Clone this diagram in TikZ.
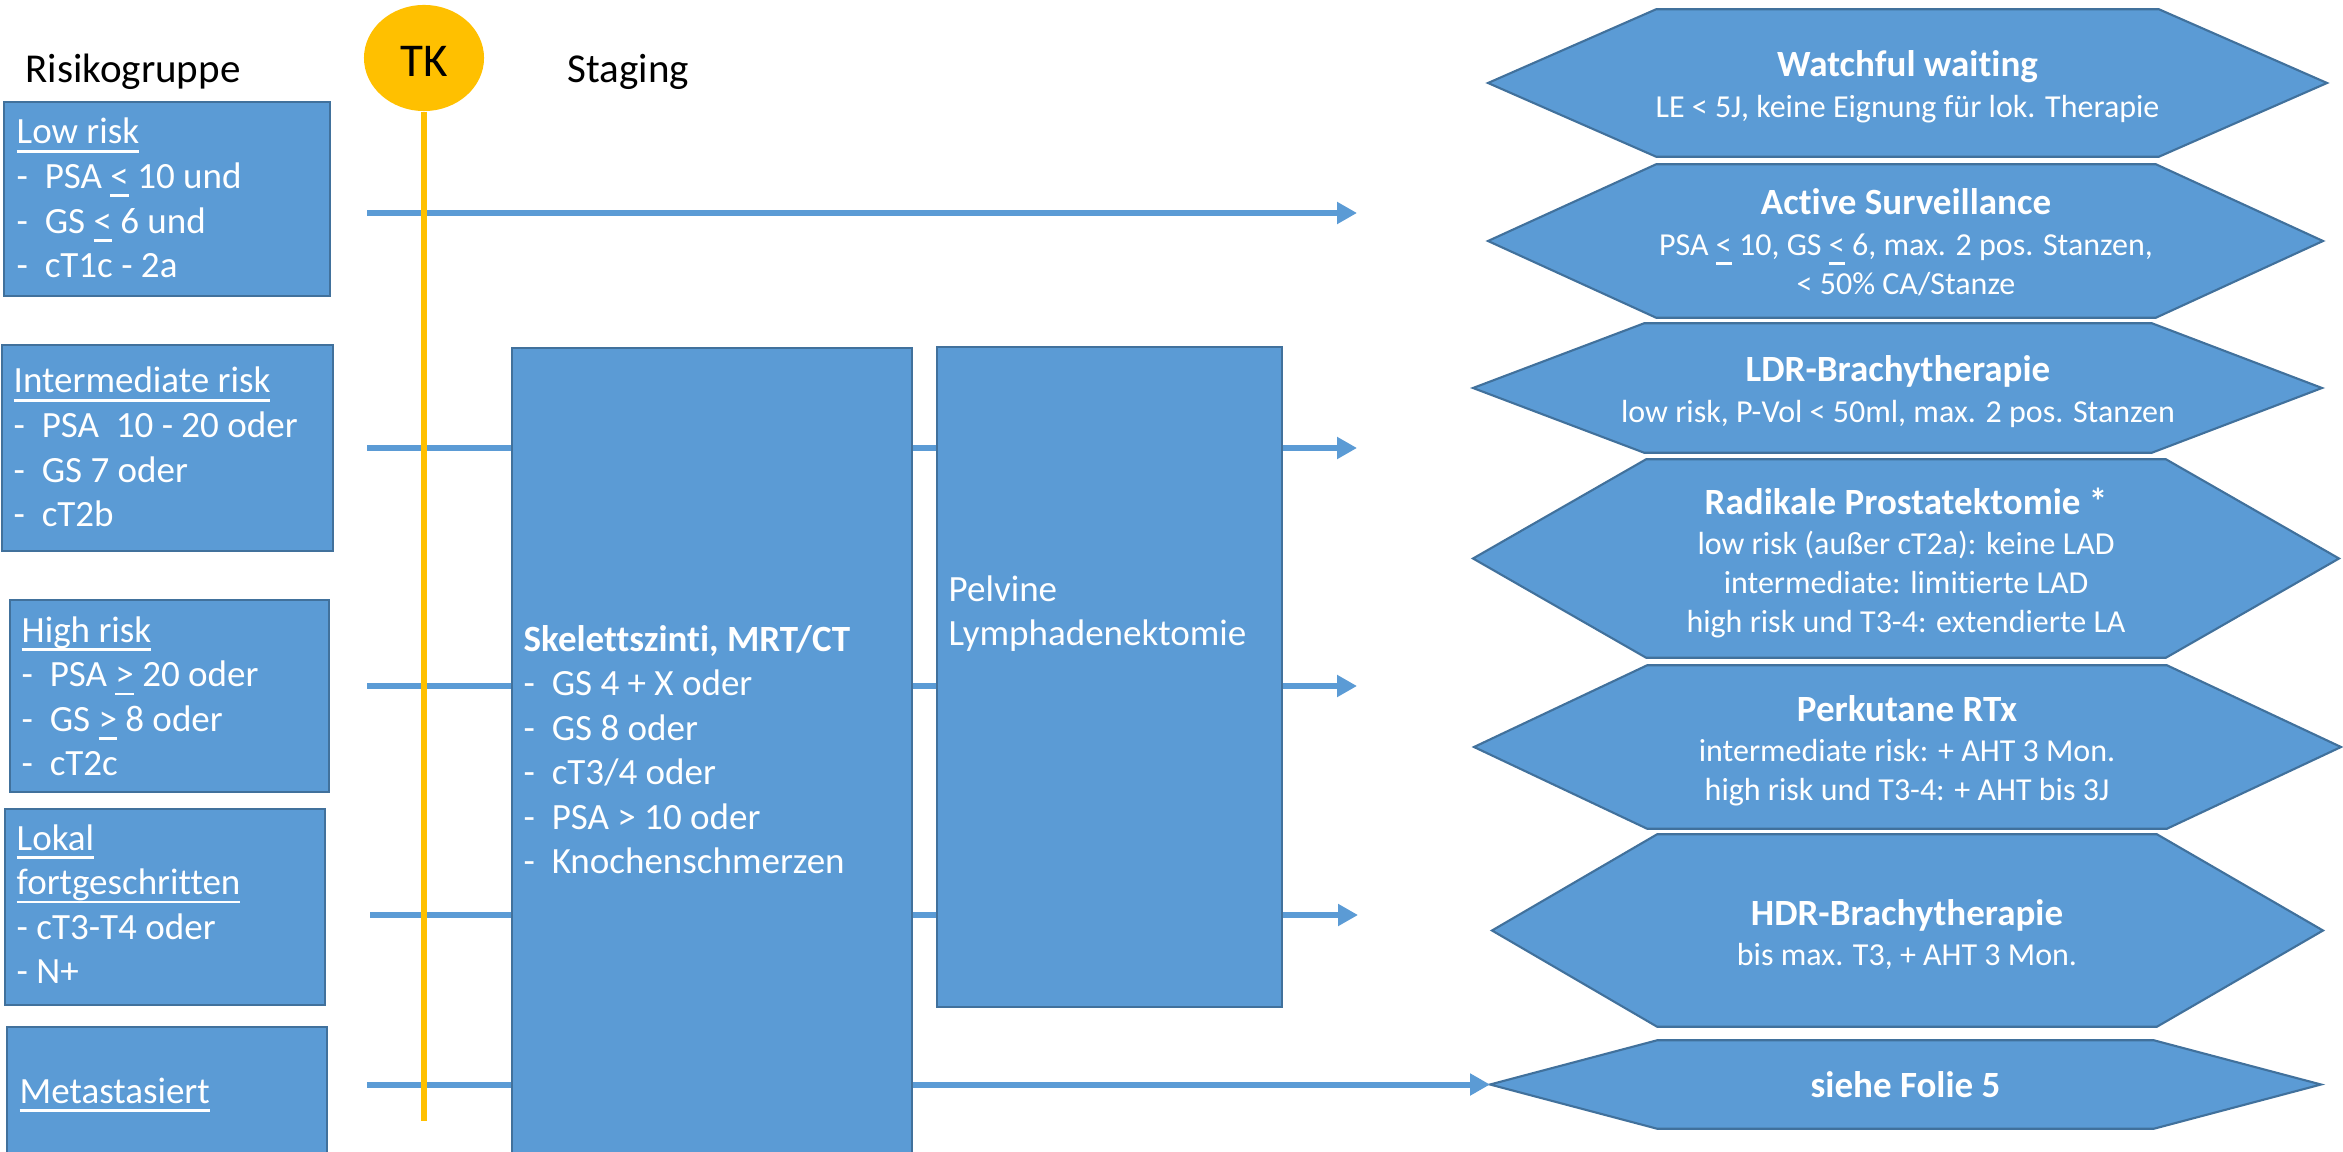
\documentclass[tikz,border=0pt]{standalone}
\usepackage{fontspec}
\setmainfont{Carlito}[Ligatures={NoCommon}]
\usetikzlibrary{arrows.meta,shapes.geometric}
\definecolor{bfill}{HTML}{5B9BD5}
\definecolor{bline}{HTML}{41719C}
\definecolor{tkorange}{HTML}{FFC000}
\newsavebox{\ulnbox}
\newcommand{\uln}[1]{\sbox{\ulnbox}{#1}\rlap{\rule[-2.5pt]{\wd\ulnbox}{0.8pt}}\usebox{\ulnbox}}
\newcommand{\htitle}[1]{\textbf{\fontsize{10.53pt}{11pt}\selectfont #1}}
\newcommand{\drawhex}[7]{%
  \node[hexin, minimum width=#4cm, minimum height=#5cm] (#1) at (#2,#3) {};
  \coordinate (#1l) at (#6,#3);
  \coordinate (#1r) at (#7,#3);
  \draw[hexshape] (#1.north west) -- (#1.north east) -- (#1r) -- (#1.south east) -- (#1.south west) -- (#1l) -- cycle;
}
\tikzset{
  box/.style={rectangle, draw=bline, fill=bfill, line width=0.6pt, inner sep=0pt},
  hexin/.style={rectangle, inner sep=0pt},
  hexshape/.style={draw=bline, fill=bfill, line width=0.6pt, line join=miter},
  boxtext/.style={inner sep=0pt, text=white, font=\fontsize{10.53pt}{12.66pt}\selectfont},
  hextext/.style={inner sep=0pt, text=white, font=\fontsize{9.1pt}{11pt}\selectfont},
  header/.style={inner sep=0pt, text=black, font=\fontsize{11.67pt}{14pt}\selectfont},
  conn/.style={draw=bfill, line width=1.7pt, -{Triangle[length=0.2cm,width=0.21cm]}},
}
\begin{document}
\begin{tikzpicture}[x=0.01cm,y=-0.01cm]
\clip (0,0) rectangle (2343,1152);
\fill[white] (0,0) rectangle (2343,1152);

% hexagons (treatment options)
\drawhex{h1}{1907.5}{83}{5.01}{1.46}{1488}{2327}
\drawhex{h2}{1906}{241}{4.98}{1.52}{1488}{2323}
\drawhex{h3}{1898}{388}{5.06}{1.28}{1473}{2322}
\drawhex{h4}{1906}{558.5}{5.18}{1.97}{1473}{2339}
\drawhex{h5}{1907}{747}{5.18}{1.62}{1474}{2341}
\drawhex{h6}{1907}{930.5}{4.98}{1.91}{1492}{2323}
\drawhex{h7}{1905.5}{1084.5}{4.95}{0.87}{1490}{2321}

% connector end points
\coordinate (a1s) at (367,213);  \coordinate (a1e) at (1357,213);
\coordinate (a2s) at (367,448);  \coordinate (a2e) at (1357,448);
\coordinate (a3s) at (367,686);  \coordinate (a3e) at (1357,686);
\coordinate (a4s) at (370,915);  \coordinate (a4e) at (1358,915);
\coordinate (a5s) at (367,1084.5);

\draw[conn] (a1s) -- (a1e);
\draw[conn] (a2s) -- (a2e);
\draw[conn] (a3s) -- (a3e);
\draw[conn] (a4s) -- (a4e);
\draw[conn] (a5s) -- (h7l);

% risk group boxes
\node[box, minimum width=3.26cm, minimum height=1.94cm] (low) at (167,199) {};
\node[box, minimum width=3.31cm, minimum height=2.06cm] (inter) at (167.5,448) {};
\node[box, minimum width=3.19cm, minimum height=1.92cm] (high) at (169.5,696) {};
\node[box, minimum width=3.20cm, minimum height=1.96cm] (lokal) at (165,907) {};
\node[box, minimum width=3.20cm, minimum height=1.38cm] (meta) at (167,1096) {};
% staging boxes
\node[box, minimum width=4.00cm, minimum height=8.16cm] (skel) at (712,756) {};
\node[box, minimum width=3.45cm, minimum height=6.60cm] (pelv) at (1109.5,677) {};

% TK
\coordinate (tkend) at (423,1121);
\node[ellipse, fill=tkorange, minimum width=1.20cm, minimum height=1.06cm, inner sep=0pt] (tkc) at (424,58) {};
\draw[tkorange, line width=1.7pt] (tkc.south) -- (tkc.south |- tkend);
\node[inner sep=0pt, anchor=base, font=\fontsize{13.37pt}{16pt}\selectfont] (tkt) at (424,77) {TK};

% headers
\node[header, anchor=base west] (hrisk) at (25,83) {Risikogruppe};
\node[header, anchor=base west] (hstag) at (567,83) {Staging};

% box texts
\node[boxtext, anchor=base west] (lowt) at (16,144) {\begin{tabular}[t]{@{}l@{}}\uln{Low risk}\\ -\ \ PSA \uln{<} 10 und\\ -\ \ GS \uln{<} 6 und\\ -\ \ cT1c - 2a\end{tabular}};
\node[boxtext, anchor=base west] (intt) at (13,393) {\begin{tabular}[t]{@{}l@{}}\uln{Intermediate risk}\\ -\ \ PSA\ \ 10 - 20 oder\\ -\ \ GS 7 oder\\ -\ \ cT2b\end{tabular}};
\node[boxtext, anchor=base west] (hight) at (21,642) {\begin{tabular}[t]{@{}l@{}}\uln{High risk}\\ -\ \ PSA \uln{>} 20 oder\\ -\ \ GS \uln{>} 8 oder\\ -\ \ cT2c\end{tabular}};
\node[boxtext, anchor=base west] (lokt) at (16,850) {\begin{tabular}[t]{@{}l@{}}\uln{Lokal}\\ \uln{fortgeschritten}\\ - cT3-T4 oder\\ - N+\end{tabular}};
\node[boxtext, anchor=base west] (mett) at (19,1103) {\uln{Metastasiert}};
\node[boxtext, anchor=base west] (skelt) at (523,651) {\begin{tabular}[t]{@{}l@{}}\textbf{Skelettszinti, MRT/CT}\\ -\ \ GS 4 + X oder\\ -\ \ GS 8 oder\\ -\ \ cT3/4 oder\\ -\ \ PSA > 10 oder\\ -\ \ Knochenschmerzen\end{tabular}};
\node[boxtext, anchor=base west] (pelt) at (948,601) {\begin{tabular}[t]{@{}l@{}}Pelvine\\ Lymphadenektomie\end{tabular}};

% hexagon texts
\node[hextext, anchor=base] (h1t) at (1907.5,77) {\begin{tabular}[t]{@{}c@{}}\htitle{Watchful waiting}\\[0.6pt] LE < 5J, keine Eignung für lok. Therapie\end{tabular}};
\node[hextext, anchor=base] (h2t) at (1906,215) {\begin{tabular}[t]{@{}c@{}}\htitle{Active Surveillance}\\[0.6pt] PSA \uln{<} 10, GS \uln{<} 6, max. 2 pos. Stanzen,\\ < 50\% CA/Stanze\end{tabular}};
\node[hextext, anchor=base] (h3t) at (1898,382) {\begin{tabular}[t]{@{}c@{}}\htitle{LDR-Brachytherapie}\\[0.6pt] low risk, P-Vol < 50ml, max. 2 pos. Stanzen\end{tabular}};
\node[hextext, anchor=base] (h4t) at (1906,514) {\begin{tabular}[t]{@{}c@{}}\htitle{Radikale Prostatektomie *}\\[0.6pt] low risk (außer cT2a): keine LAD\\ intermediate: limitierte LAD\\ high risk und T3-4: extendierte LA\end{tabular}};
\node[hextext, anchor=base] (h5t) at (1907,721) {\begin{tabular}[t]{@{}c@{}}\htitle{Perkutane RTx}\\[0.6pt] intermediate risk: + AHT 3 Mon.\\ high risk und T3-4: + AHT bis 3J\end{tabular}};
\node[hextext, anchor=base] (h6t) at (1907,925) {\begin{tabular}[t]{@{}c@{}}\htitle{HDR-Brachytherapie}\\[0.6pt] bis max. T3, + AHT 3 Mon.\end{tabular}};
\node[hextext, anchor=base] (h7t) at (1905.5,1097) {\htitle{siehe Folie 5}};
\end{tikzpicture}
\end{document}
